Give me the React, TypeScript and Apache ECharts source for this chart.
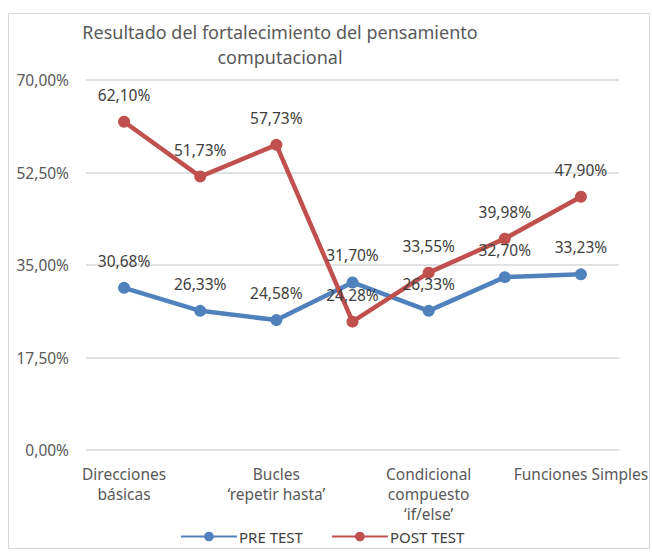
import React, { useEffect, useRef } from "react";
import * as echarts from "echarts";

const categories = [
  "Direcciones\nbásicas",
  "Bucles\n‘repetir’",
  "Bucles\n‘repetir hasta’",
  "Condicional\nsimple ‘if’",
  "Condicional\ncompuesto\n‘if/else’",
  "Bucles\n‘mientras’",
  "Funciones Simples",
];
const preTest = [30.68, 26.33, 24.58, 31.7, 26.33, 32.7, 33.23];
const postTest = [62.1, 51.73, 57.73, 24.28, 33.55, 39.98, 47.9];
const yTicks = { min: 0, max: 70, interval: 17.5 };

const FONT = "'Noto Sans', sans-serif";
const fmt = (v: number) => v.toFixed(2).replace(".", ",") + "%";

export default function App() {
  const ref = useRef<HTMLDivElement>(null);
  useEffect(() => {
    if (!ref.current) return;
    const chart = echarts.init(ref.current, undefined, { renderer: "svg" });
    const labelStyle = {
      show: true,
      position: "top" as const,
      distance: 13,
      color: "#404040",
      fontSize: 15.5,
      fontFamily: FONT,
      formatter: (p: any) => fmt(p.value),
    };
    chart.setOption({
      animation: false,
      backgroundColor: "#ffffff",
      textStyle: { fontFamily: FONT },
      title: {
        text: "Resultado del fortalecimiento del pensamiento\ncomputacional",
        left: 275,
        top: 14,
        textAlign: "center",
        textStyle: {
          fontSize: 18,
          fontWeight: "normal",
          color: "#595959",
          fontFamily: FONT,
          lineHeight: 25,
        },
      },
      graphic: [
        {
          type: "rect",
          shape: { x: 8.5, y: 13.5, width: 641, height: 535 },
          style: { fill: "none", stroke: "#d9d9d9", lineWidth: 1 },
          silent: true,
        },
      ],
      legend: {
        bottom: 6,
        left: 175,
        itemWidth: 56,
        itemHeight: 12,
        itemGap: 28,
        textStyle: { fontSize: 15, color: "#404040", fontFamily: FONT, padding: [0, 0, 0, -3] },
        data: ["PRE TEST", "POST TEST"],
      },
      grid: { left: 86, right: 33, top: 80, bottom: 105, containLabel: false },
      xAxis: {
        type: "category",
        data: categories,
        boundaryGap: true,
        axisLine: { show: false },
        axisTick: { show: false },
        axisLabel: {
          interval: 1,
          color: "#595959",
          fontSize: 15.5,
          fontFamily: FONT,
          lineHeight: 20,
          margin: 14,
        },
      },
      yAxis: {
        type: "value",
        min: yTicks.min,
        max: yTicks.max,
        interval: yTicks.interval,
        axisLine: { show: false },
        axisTick: { show: false },
        splitLine: { lineStyle: { color: "#d9d9d9", width: 1.5 } },
        axisLabel: {
          color: "#595959",
          fontSize: 15.5,
          fontFamily: FONT,
          margin: 17,
          formatter: (v: number) => fmt(v),
        },
      },
      series: [
        {
          name: "PRE TEST",
          type: "line",
          data: preTest,
          color: "#4F81BD",
          symbol: "circle",
          symbolSize: 12,
          lineStyle: { width: 4.5, color: "#4F81BD" },
          itemStyle: { color: "#4F81BD" },
          label: labelStyle,
        },
        {
          name: "POST TEST",
          type: "line",
          data: postTest,
          color: "#C0504D",
          symbol: "circle",
          symbolSize: 12,
          lineStyle: { width: 4.5, color: "#C0504D" },
          itemStyle: { color: "#C0504D" },
          label: labelStyle,
        },
      ],
    });
    return () => chart.dispose();
  }, []);
  return (
    <div
      ref={ref}
      style={{ position: "absolute", left: 0, top: 0, width: 652, height: 555 }}
    />
  );
}
